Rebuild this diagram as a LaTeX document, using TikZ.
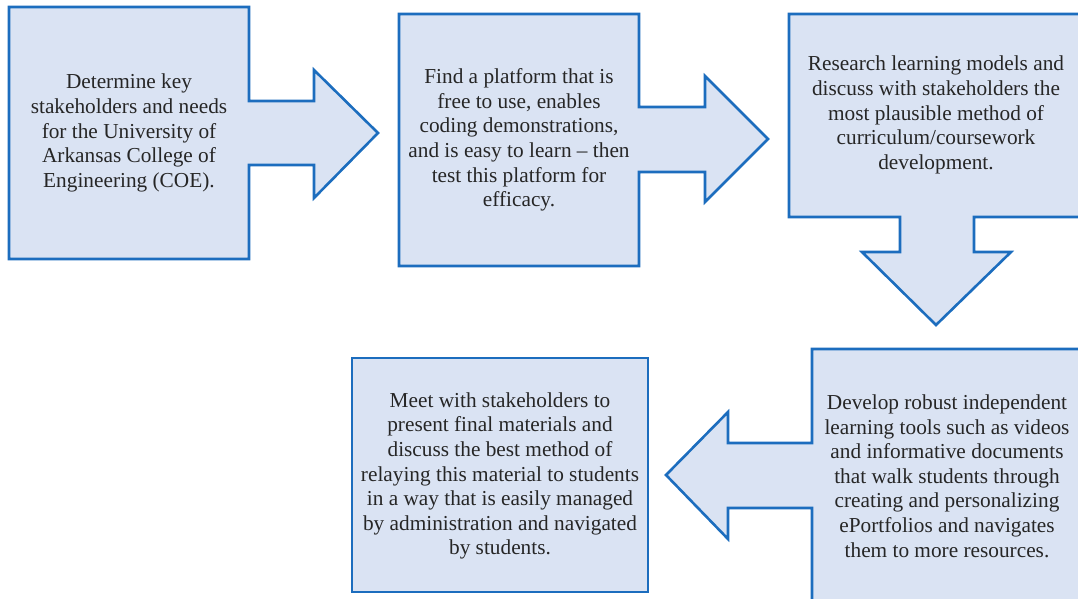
\documentclass[tikz,border=0pt]{standalone}
\usepackage{fontspec}
\setmainfont{Liberation Serif}
\usetikzlibrary{positioning}
\definecolor{boxblue}{HTML}{DAE3F3}
\definecolor{edgeblue}{HTML}{1C6DBE}
\colorlet{inktext}{black!85}

\begin{document}
\begin{tikzpicture}[x=1pt, y=-1pt,
    callout/.style={draw=edgeblue, fill=boxblue, line width=2.6pt, line join=miter},
    txt/.style={align=center, text=inktext, inner sep=0pt,
                font=\rmfamily\fontsize{21.3}{24.6}\selectfont},
  ]
  \useasboundingbox (0,0) rectangle (1078,599);
  \clip (0,0) rectangle (1078,599);

  % step 1, arrow to the right
  \draw[callout] (9,7) -- (249,7) -- (249,101) -- (314,101) -- (314,70) -- (378,133)
    -- (314,198) -- (314,165) -- (249,165) -- (249,259) -- (9,259) -- cycle;
  \node[txt] (keys) at (129,133)
    {Determine key\\ stakeholders and needs\\ for the University of\\
     Arkansas College of\\ Engineering (COE).};

  % step 2, arrow to the right
  \draw[callout] (399,14) -- (639,14) -- (639,107) -- (705,107) -- (705,76) -- (768,139)
    -- (705,202) -- (705,172) -- (639,172) -- (639,266) -- (399,266) -- cycle;
  \node[txt] (platform) at (519,140)
    {Find a platform that is\\ free to use, enables\\ coding demonstrations,\\
     and is easy to learn -- then\\ test this platform for\\ efficacy.};

  % step 3, arrow down
  \draw[callout] (789,14) -- (1083,14) -- (1083,217) -- (974,217) -- (974,252) -- (1011,252)
    -- (936,325) -- (862,252) -- (900,252) -- (900,217) -- (789,217) -- cycle;
  \node[txt] (models) at (936,115)
    {Research learning models and\\ discuss with stakeholders the\\
     most plausible method of\\ curriculum/coursework\\ development.};

  % step 4, arrow to the left
  \draw[callout] (812,349) -- (1083,349) -- (1083,603) -- (812,603) -- (812,508) -- (728,508)
    -- (728,539) -- (666,475) -- (728,412) -- (728,443) -- (812,443) -- cycle;
  \node[txt] (tools) at (947,476)
    {Develop robust independent\\ learning tools such as videos\\
     and informative documents\\ that walk students through\\
     creating and personalizing\\ ePortfolios and navigates\\ them to more resources.};

  % step 5, plain box
  \draw[callout] (352,358) rectangle (648,592);
  \node[txt] (meet) at (500,476)
    {Meet with stakeholders to\\ present final materials and\\
     discuss the best method of\\ relaying this material to students\\
     in a way that is easily managed\\ by administration and navigated\\ by students.};
\end{tikzpicture}
\end{document}
